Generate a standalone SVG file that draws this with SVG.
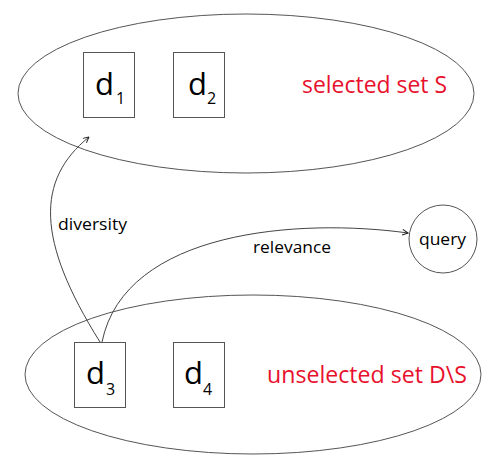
<svg xmlns="http://www.w3.org/2000/svg" width="497" height="470" viewBox="0 0 497 470">
<defs>
<style>
.set{fill:none;stroke:#555;stroke-width:1}
.box{fill:#fff;stroke:#555;stroke-width:1}
.d{font-family:"Open Sans","Noto Sans",sans-serif;font-size:31px;fill:#000}
.sub{font-family:"Open Sans","Noto Sans",sans-serif;font-size:16px;fill:#000}
.red{font-family:"Open Sans","Noto Sans",sans-serif;font-size:23px;fill:#e8112d}
.lbl{font-family:"Open Sans","Noto Sans",sans-serif;font-size:17px;fill:#000}
.edge{fill:none;stroke:#444;stroke-width:1}
</style>
<marker id="arr" viewBox="0 0 10 10" refX="9" refY="5" markerWidth="7" markerHeight="7" orient="auto" markerUnits="userSpaceOnUse">
<path d="M1,1 L9,5 L1,9" fill="none" stroke="#222" stroke-width="1.4"/>
</marker>
</defs>
<rect width="497" height="470" fill="#fff"/>
<g id="selected-set">
<ellipse class="set" cx="246" cy="93.5" rx="228" ry="79.5"/>
<text class="red" x="302" y="93" textLength="145" lengthAdjust="spacingAndGlyphs">selected set S</text>
</g>
<g id="unselected-set">
<ellipse class="set" cx="253" cy="374.5" rx="228" ry="79.5"/>
<text class="red" x="267" y="383" textLength="200" lengthAdjust="spacingAndGlyphs">unselected set D\S</text>
</g>
<g id="d1">
<rect class="box" x="83.5" y="52.5" width="51" height="65"/>
<text class="d" x="95" y="95">d</text><text class="sub" x="116" y="104">1</text>
</g>
<g id="d2">
<rect class="box" x="173.5" y="52.5" width="51" height="65"/>
<text class="d" x="188" y="95">d</text><text class="sub" x="207" y="104">2</text>
</g>
<g id="query">
<circle class="set" cx="443" cy="239" r="34"/>
<text class="lbl" x="419" y="245" textLength="47" lengthAdjust="spacingAndGlyphs">query</text>
</g>
<g id="connectors">
<path class="edge" d="M100,342 C36,240 36,180 89,137" marker-end="url(#arr)"/>
<path class="edge" d="M102,342 C125,230 300,218 408,233" marker-end="url(#arr)"/>
<text class="lbl" x="58" y="230" textLength="69" lengthAdjust="spacingAndGlyphs">diversity</text>
<text class="lbl" x="253" y="253" textLength="78" lengthAdjust="spacingAndGlyphs">relevance</text>
</g>
<g id="d3">
<rect class="box" x="74.5" y="342.5" width="51" height="65"/>
<text class="d" x="86" y="384">d</text><text class="sub" x="106" y="395">3</text>
</g>
<g id="d4">
<rect class="box" x="173.5" y="342.5" width="51" height="65"/>
<text class="d" x="184" y="384">d</text><text class="sub" x="203" y="395">4</text>
</g>
</svg>
